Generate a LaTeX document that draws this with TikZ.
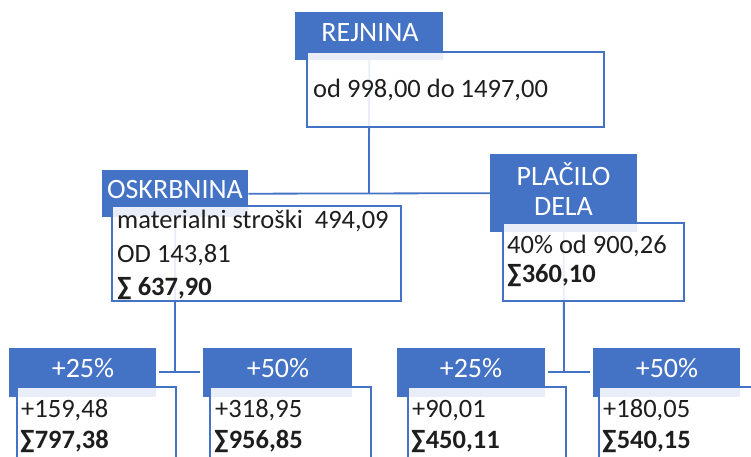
\documentclass[tikz,border=0pt]{standalone}
\usepackage{fontspec}
\setmainfont{Carlito}
\definecolor{obl}{HTML}{4472C4}
\definecolor{txt}{HTML}{1E1E1E}
\tikzset{
  hdr/.style={fill=obl, draw=none, inner sep=0pt, anchor=north west},
  hdrtxt/.style={text=white, inner sep=0pt, anchor=base, font=\fontsize{28}{30}\selectfont},
  bx/.style={draw=obl, line width=1.8pt, fill=white, fill opacity=0.88, inner sep=0pt, anchor=north west},
  bodytxt/.style={text=txt, inner sep=0pt, anchor=base west, font=\fontsize{26.5}{30}\selectfont},
  boldtxt/.style={bodytxt, font=\fontsize{26.5}{30}\selectfont\bfseries},
  conn/.style={draw=obl, line width=1.8pt}
}
\begin{document}
\begin{tikzpicture}[x=1pt,y=-1pt]
\clip (0,0) rectangle (751,457);
% headers
\node[hdr, minimum width=148pt, minimum height=48pt] (rejh) at (295,12) {};
\node[hdr, minimum width=146pt, minimum height=47pt] (oskh) at (102,170) {};
\node[hdr, minimum width=147pt, minimum height=78pt] (plah) at (490,154) {};
\node[hdr, minimum width=147pt, minimum height=49pt] (h1) at (9,348) {};
\node[hdr, minimum width=149pt, minimum height=49pt] (h2) at (203,348) {};
\node[hdr, minimum width=148pt, minimum height=49pt] (h3) at (397,348) {};
\node[hdr, minimum width=147pt, minimum height=49pt] (h4) at (593,348) {};
% connectors
\coordinate (j1) at (369,193);
\coordinate (j2) at (175,372);
\coordinate (j3) at (564,372);
\draw[conn] (rejh.south) -- (j1);
\draw[conn] (oskh.east) -- (plah.west);
\draw[conn] (oskh.south) -- (j2);
\draw[conn] (plah.south) -- (j3);
\draw[conn] ([xshift=3pt]h1.east |- j2) -- ([xshift=-3pt]h2.west |- j2);
\draw[conn] ([xshift=3pt]h3.east |- j3) -- ([xshift=-3pt]h4.west |- j3);
% boxes
\node[bx, minimum width=297pt, minimum height=75pt] (rejb) at (306,51) {};
\node[bx, minimum width=289pt, minimum height=95pt] (oskb) at (111,205) {};
\node[bx, minimum width=181pt, minimum height=78pt] (plab) at (502,222) {};
\node[bx, minimum width=159pt, minimum height=90pt] (b1) at (16,386) {};
\node[bx, minimum width=161pt, minimum height=90pt] (b2) at (209,386) {};
\node[bx, minimum width=158pt, minimum height=90pt] (b3) at (407,386) {};
\node[bx, minimum width=170pt, minimum height=90pt] (b4) at (598,386) {};
% header texts
\node[hdrtxt] (rejt) at (370,42) {REJNINA};
\node[hdrtxt] (oskt) at (175,198) {OSKRBNINA};
\node[hdrtxt] (plat1) at (563.5,185) {PLAČILO};
\node[hdrtxt] (plat2) at (563.5,215) {DELA};
\node[hdrtxt] (h1t) at (83,377) {+25\%};
\node[hdrtxt] (h2t) at (278,377) {+50\%};
\node[hdrtxt] (h3t) at (471,377) {+25\%};
\node[hdrtxt] (h4t) at (667,377) {+50\%};
% body texts
\node[bodytxt] (rejx) at (313,98) {od 998,00 do 1497,00};
\node[bodytxt] (osk1) at (117,228) {materialni stroški\ \ 494,09};
\node[bodytxt] (osk2) at (117,262) {OD 143,81};
\node[boldtxt] (osk3) at (117,295) {∑ 637,90};
\node[bodytxt] (pla1) at (507,253) {40\% od 900,26};
\node[boldtxt] (pla2) at (507,282) {∑360,10};
\node[bodytxt] (b1a) at (21,417) {+159,48};
\node[boldtxt] (b1b) at (20,448) {∑797,38};
\node[bodytxt] (b2a) at (215,417) {+318,95};
\node[boldtxt] (b2b) at (214,448) {∑956,85};
\node[bodytxt] (b3a) at (412,417) {+90,01};
\node[boldtxt] (b3b) at (411,448) {∑450,11};
\node[bodytxt] (b4a) at (603,417) {+180,05};
\node[boldtxt] (b4b) at (602,448) {∑540,15};
\end{tikzpicture}
\end{document}
